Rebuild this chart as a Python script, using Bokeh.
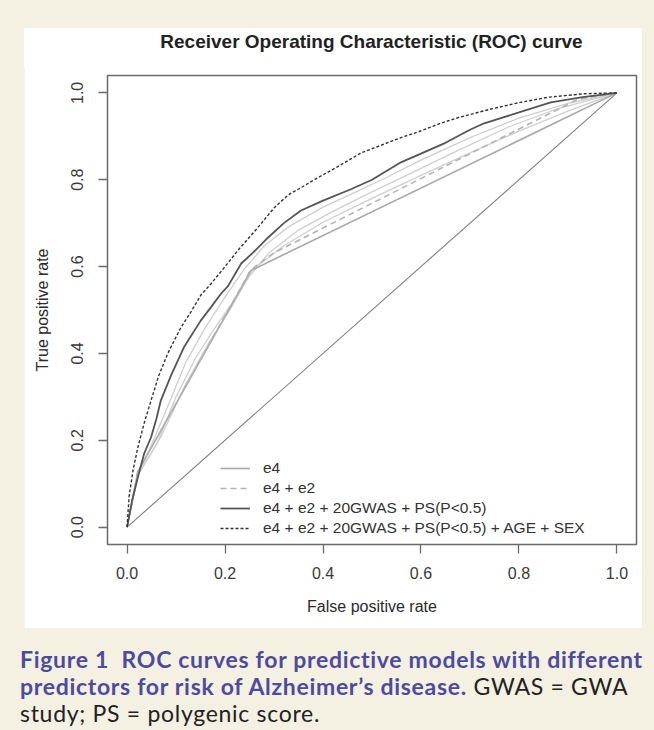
from bokeh.plotting import figure
from bokeh.models import Range1d, Div, FixedTicker, Legend, LegendItem
from bokeh.layouts import column
from bokeh.embed import file_html
from bokeh.resources import INLINE

# ---------------- data ----------------
diag_x = [0.0, 1.0]
diag_y = [0.0, 1.0]

e4_fpr = [0.0, 0.022, 0.253, 1.0]
e4_tpr = [0.0, 0.128, 0.591, 1.0]

e4e2_fpr = [0.0, 0.022, 0.252, 0.30, 0.92, 1.0]
e4e2_tpr = [0.0, 0.128, 0.592, 0.632, 0.985, 1.0]

lightA_fpr = [0.0, 0.022, 0.05, 0.08, 0.12, 0.16, 0.20, 0.24, 0.28, 0.33, 0.40, 0.46, 0.52, 0.60, 0.70, 0.80, 0.90, 1.0]
lightA_tpr = [0.0, 0.12, 0.19, 0.27, 0.38, 0.46, 0.53, 0.595, 0.648, 0.692, 0.737, 0.768, 0.80, 0.845, 0.897, 0.942, 0.976, 1.0]

lightB_fpr = [0.0, 0.022, 0.06, 0.10, 0.14, 0.18, 0.22, 0.25, 0.29, 0.35, 0.42, 0.50, 0.58, 0.68, 0.78, 0.88, 1.0]
lightB_tpr = [0.0, 0.12, 0.19, 0.30, 0.39, 0.46, 0.525, 0.578, 0.632, 0.684, 0.727, 0.772, 0.815, 0.87, 0.922, 0.964, 1.0]

lightC_fpr = [0.0, 0.022, 0.07, 0.12, 0.17, 0.21, 0.255, 0.32, 0.40, 0.50, 0.60, 0.70, 0.80, 0.90, 1.0]
lightC_tpr = [0.0, 0.12, 0.21, 0.33, 0.43, 0.50, 0.592, 0.648, 0.702, 0.757, 0.81, 0.862, 0.912, 0.958, 1.0]

gwas_fpr = [0.0, 0.01, 0.022, 0.035, 0.049, 0.06, 0.069, 0.09, 0.116, 0.15, 0.171, 0.192, 0.206,
            0.233, 0.257, 0.288, 0.32, 0.355, 0.40, 0.457, 0.50, 0.559, 0.60, 0.65, 0.70, 0.729,
            0.80, 0.865, 0.93, 1.0]
gwas_tpr = [0.0, 0.06, 0.115, 0.17, 0.207, 0.25, 0.292, 0.35, 0.414, 0.475, 0.506, 0.538, 0.555,
            0.607, 0.632, 0.667, 0.70, 0.729, 0.752, 0.778, 0.80, 0.84, 0.86, 0.885, 0.915, 0.93,
            0.955, 0.978, 0.99, 1.0]

full_fpr = [0.0, 0.004, 0.012, 0.022, 0.035, 0.049, 0.065, 0.083, 0.11, 0.13, 0.151, 0.171, 0.20,
            0.226, 0.267, 0.30, 0.329, 0.36, 0.39, 0.43, 0.457, 0.478, 0.52, 0.559, 0.594, 0.64,
            0.676, 0.74, 0.798, 0.86, 0.933, 1.0]
full_tpr = [0.0, 0.07, 0.13, 0.184, 0.24, 0.292, 0.35, 0.40, 0.46, 0.495, 0.535, 0.56, 0.60,
            0.637, 0.69, 0.735, 0.765, 0.785, 0.805, 0.83, 0.848, 0.862, 0.88, 0.897, 0.91, 0.93,
            0.943, 0.962, 0.977, 0.99, 0.998, 1.0]

tick_vals = [0.0, 0.2, 0.4, 0.6, 0.8, 1.0]
tick_labels = {0.0: "0.0", 0.2: "0.2", 0.4: "0.4", 0.6: "0.6", 0.8: "0.8", 1.0: "1.0"}

legend_labels = ["e4", "e4 + e2", "e4 + e2 + 20GWAS + PS(P<0.5)",
                 "e4 + e2 + 20GWAS + PS(P<0.5) + AGE + SEX"]

title_text = "Receiver Operating Characteristic (ROC) curve"
xlabel = "False positive rate"
ylabel = "True positive rate"

caption_bold_1 = "Figure 1\u00a0 ROC curves for predictive models with different"
caption_bold_2 = "predictors for risk of Alzheimer\u2019s disease."
caption_plain_2 = "GWAS = GWA"
caption_plain_3 = "study; PS = polygenic score."

# ---------------- layout constants ----------------
FONT = "Liberation Sans"
CREAM = "#f4f0e2"
PANEL_W = 618
TITLE_H = 40
OVERLAP = 2

# title strip (white, part of the white panel)
title_div = Div(
    text=('<div style="width:529px;margin-left:83px;text-align:center;'
          'line-height:16px;padding-top:0px;">%s</div>') % title_text,
    width=PANEL_W, height=TITLE_H, margin=(28, 0, 0, 24),
    styles={"background-color": "white", "font-family": FONT, "font-size": "19px",
            "font-weight": "bold", "color": "#222222", "white-space": "nowrap"})

p = figure(width=PANEL_W, height=600 - TITLE_H + OVERLAP, output_backend="svg",
           toolbar_location=None,
           x_range=Range1d(-0.04, 1.04), y_range=Range1d(-0.04, 1.04),
           min_border_left=83, min_border_right=6, min_border_top=47 - TITLE_H + OVERLAP,
           min_border_bottom=84,
           background_fill_color="white", border_fill_color="white",
           margin=(-OVERLAP, 0, 0, 24))

p.outline_line_color = "#6a6a6a"
p.outline_line_width = 1.5
p.grid.visible = False

for ax in (p.xaxis[0], p.yaxis[0]):
    ax.ticker = FixedTicker(ticks=tick_vals)
    ax.major_label_overrides = tick_labels
    ax.axis_line_color = None
    ax.major_tick_line_color = "#6a6a6a"
    ax.major_tick_line_width = 1.3
    ax.major_tick_in = 0
    ax.major_tick_out = 9
    ax.minor_tick_line_color = None
    ax.major_label_text_font = FONT
    ax.major_label_text_font_size = "16px"
    ax.major_label_text_color = "#3a3a3a"
    ax.axis_label_text_font = FONT
    ax.axis_label_text_font_size = "16px"
    ax.axis_label_text_font_style = "normal"
    ax.axis_label_text_color = "#2a2a2a"

p.xaxis.axis_label = xlabel
p.xaxis.major_label_standoff = 13
p.xaxis.axis_label_standoff = 16
p.yaxis.axis_label = ylabel
p.yaxis.major_label_orientation = "vertical"
p.yaxis.major_label_standoff = 15
p.yaxis.axis_label_standoff = 18

# chance line
p.line(diag_x, diag_y, line_color="#808080", line_width=1.1)

# intermediate light grey curves
for xs, ys in ((lightC_fpr, lightC_tpr), (lightB_fpr, lightB_tpr), (lightA_fpr, lightA_tpr)):
    p.line(xs, ys, line_color="#cfcfcf", line_width=1.3)

r_e4 = p.line(e4_fpr, e4_tpr, line_color="#a9a9a9", line_width=1.6)
r_e4e2 = p.line(e4e2_fpr, e4e2_tpr, line_color="#b4b4b4", line_width=1.6, line_dash="6 4")
r_gwas = p.line(gwas_fpr, gwas_tpr, line_color="#555555", line_width=1.8)
r_full = p.line(full_fpr, full_tpr, line_color="#333333", line_width=1.4, line_dash="3 2")

legend = Legend(items=[LegendItem(label=legend_labels[0], renderers=[r_e4]),
                       LegendItem(label=legend_labels[1], renderers=[r_e4e2]),
                       LegendItem(label=legend_labels[2], renderers=[r_gwas]),
                       LegendItem(label=legend_labels[3], renderers=[r_full])],
                location=(113, 6))
legend.background_fill_alpha = 0
legend.border_line_color = None
legend.padding = 0
legend.margin = 0
legend.spacing = 0
legend.label_height = 20
legend.glyph_height = 20
legend.glyph_width = 30
legend.label_standoff = 13
legend.label_text_font = FONT
legend.label_text_font_size = "15.5px"
legend.label_text_color = "#333333"
p.add_layout(legend, "center")

BLUE = "#4d4b9e"
caption = Div(
    text=('<div style="color:%s;font-weight:bold;">%s</div>'
          '<div><span style="color:%s;font-weight:bold;">%s</span> '
          '<span style="color:#222;">%s</span></div>'
          '<div style="color:#222;">%s</div>') % (BLUE, caption_bold_1, BLUE, caption_bold_2,
                                                  caption_plain_2, caption_plain_3),
    width=630, margin=(18, 0, 0, 20),
    styles={"font-family": "Lato", "font-size": "23px", "line-height": "27px",
            "letter-spacing": "0.7px", "white-space": "nowrap"})

layout = column(title_div, p, caption, styles={"background-color": CREAM})

html = file_html(layout, INLINE)
html = html.replace("<head>", "<head><style>html, body { background-color: %s; }</style>" % CREAM, 1)
open("out.html", "w").write(html)
